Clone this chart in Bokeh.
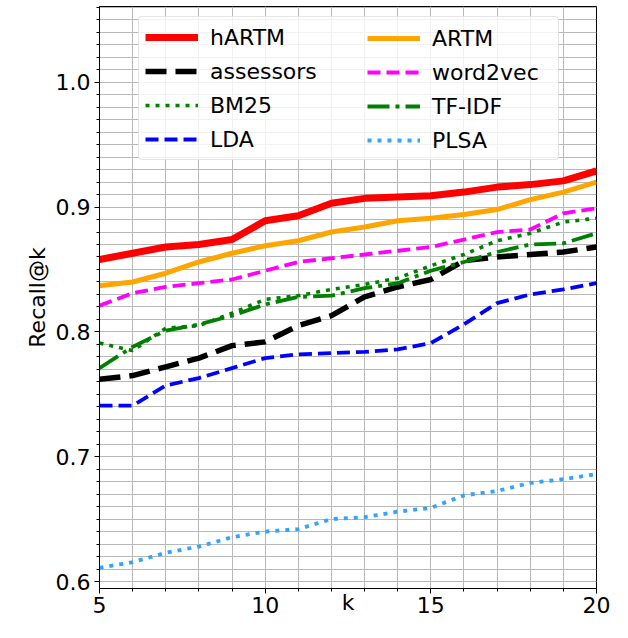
from bokeh.plotting import figure
from bokeh.models import (SingleIntervalTicker, Legend, LegendItem, Range1d,
                          PrintfTickFormatter)
from bokeh.embed import file_html
from bokeh.resources import INLINE

k = list(range(5, 21))
hartm = [0.858, 0.863, 0.868, 0.870, 0.874, 0.889, 0.893, 0.903, 0.907, 0.908,
         0.909, 0.912, 0.916, 0.918, 0.921, 0.929]
artm = [0.837, 0.840, 0.847, 0.856, 0.863, 0.869, 0.873, 0.880, 0.884, 0.889,
        0.891, 0.894, 0.898, 0.906, 0.912, 0.920]
word2vec = [0.821, 0.831, 0.836, 0.839, 0.842, 0.849, 0.856, 0.859, 0.862, 0.865,
            0.868, 0.874, 0.880, 0.882, 0.895, 0.899]
bm25 = [0.791, 0.785, 0.803, 0.805, 0.815, 0.826, 0.829, 0.834, 0.838, 0.843,
        0.853, 0.862, 0.873, 0.879, 0.888, 0.891]
tfidf = [0.771, 0.788, 0.801, 0.806, 0.813, 0.822, 0.828, 0.829, 0.835, 0.839,
         0.849, 0.856, 0.864, 0.870, 0.871, 0.879]
assessors = [0.762, 0.765, 0.772, 0.779, 0.789, 0.792, 0.805, 0.813, 0.828, 0.836,
             0.842, 0.857, 0.860, 0.862, 0.864, 0.868]
lda = [0.741, 0.741, 0.757, 0.763, 0.771, 0.779, 0.782, 0.783, 0.784, 0.786,
       0.791, 0.806, 0.823, 0.830, 0.834, 0.839]
plsa = [0.611, 0.6155, 0.623, 0.628, 0.6355, 0.640, 0.642, 0.650, 0.6515, 0.656,
        0.659, 0.669, 0.6725, 0.679, 0.682, 0.686]

FONT = "DejaVu Sans"
FS = "22px"

p = figure(width=612, height=622, output_backend="svg", toolbar_location=None,
           x_range=Range1d(5, 20), y_range=Range1d(0.5944, 1.0607),
           min_border_left=99, min_border_right=16, min_border_top=6,
           min_border_bottom=34, background_fill_color="white",
           border_fill_color="white")

p.outline_line_color = "black"
p.outline_line_width = 1
p.outline_line_alpha = 1

p.xaxis.ticker = SingleIntervalTicker(interval=5, num_minor_ticks=5)
p.yaxis.ticker = SingleIntervalTicker(interval=0.1, num_minor_ticks=10)
p.yaxis.formatter = PrintfTickFormatter(format="%.1f")

for ax in (p.xaxis[0], p.yaxis[0]):
    ax.axis_line_color = "black"
    ax.axis_line_width = 1
    ax.major_tick_line_color = "black"
    ax.minor_tick_line_color = "black"
    ax.major_tick_out = 5
    ax.major_tick_in = 0
    ax.minor_tick_out = 3
    ax.minor_tick_in = 0
    ax.major_label_text_font = FONT
    ax.major_label_text_font_size = FS
    ax.major_label_text_color = "black"
    ax.axis_label_text_font = FONT
    ax.axis_label_text_font_size = FS
    ax.axis_label_text_font_style = "normal"
    ax.axis_label_text_color = "black"

p.xaxis.major_label_standoff = 3
p.xaxis.axis_label = "k"
p.xaxis.axis_label_standoff = -26
p.yaxis.major_label_standoff = 4
p.yaxis.axis_label = "Recall@k"
p.yaxis.axis_label_standoff = 3

for g in (p.xgrid[0], p.ygrid[0]):
    g.grid_line_color = "#b8b8b8"
    g.grid_line_width = 1
    g.minor_grid_line_color = "#b8b8b8"
    g.minor_grid_line_width = 1

r_h = p.line(k, hartm, line_color="red", line_width=7)
r_a = p.line(k, assessors, line_color="black", line_width=5.5, line_dash="21 9")
r_b = p.line(k, bm25, line_color="green", line_width=3.6, line_dash="4 6")
r_l = p.line(k, lda, line_color="blue", line_width=3.8, line_dash="13 6")
r_ar = p.line(k, artm, line_color="orange", line_width=5)
r_w = p.line(k, word2vec, line_color="magenta", line_width=3.8, line_dash="13 6")
r_t = p.line(k, tfidf, line_color="green", line_width=3.8, line_dash="22 6 4 6")
r_p = p.line(k, plsa, line_color="#33a3ff", line_width=3.8, line_dash="4 6")

common = dict(label_text_font=FONT, label_text_font_size=FS, label_text_color="black",
              glyph_width=53, glyph_height=28, label_height=28, label_standoff=12,
              spacing=6, padding=6, orientation="vertical")

leg1 = Legend(items=[LegendItem(label="hARTM", renderers=[r_h]),
                     LegendItem(label="assessors", renderers=[r_a]),
                     LegendItem(label="BM25", renderers=[r_b]),
                     LegendItem(label="LDA", renderers=[r_l])],
              location=(39, 428), label_width=342,
              border_line_color="#cccccc", border_line_width=1,
              background_fill_color="white", background_fill_alpha=0.8,
              **common)
try:
    leg1.border_radius = 4
except Exception:
    pass
leg2 = Legend(items=[LegendItem(label="ARTM", renderers=[r_ar]),
                     LegendItem(label="word2vec", renderers=[r_w]),
                     LegendItem(label="TF-IDF", renderers=[r_t]),
                     LegendItem(label="PLSA", renderers=[r_p])],
              location=(262, 428), border_line_alpha=0, background_fill_alpha=0,
              **common)
p.add_layout(leg1)
p.add_layout(leg2)

open("out.html", "w").write(file_html(p, INLINE))
